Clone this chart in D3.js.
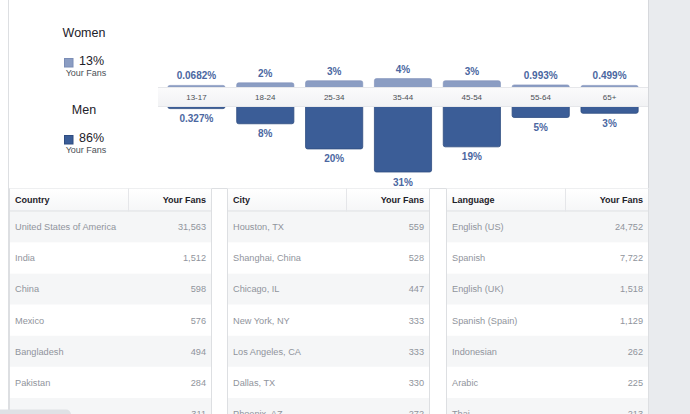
<!DOCTYPE html>
<html>
<head>
<meta charset="utf-8">
<script src="https://cdn.jsdelivr.net/npm/d3@7/dist/d3.min.js"></script>
<style>
  html, body { margin: 0; padding: 0; background: #fff; overflow: hidden; }
  svg { display: block; font-family: "Liberation Sans", Arial, Helvetica, sans-serif; }
</style>
</head>
<body>
<svg id="chart" width="690" height="414"></svg>
<script>
// ---------- DATA ----------
const ageGroups = ["13-17", "18-24", "25-34", "35-44", "45-54", "55-64", "65+"];
const womenValues = [0.0682, 2, 3, 4, 3, 0.993, 0.499];
const womenLabels = ["0.0682%", "2%", "3%", "4%", "3%", "0.993%", "0.499%"];
const menValues = [0.327, 8, 20, 31, 19, 5, 3];
const menLabels = ["0.327%", "8%", "20%", "31%", "19%", "5%", "3%"];
const genderNames = ["Women", "Men"];
const genderShares = ["13%", "86%"];

const countryNames = ["United States of America", "India", "China", "Mexico", "Bangladesh", "Pakistan", "Philippines"];
const countryFans = [31563, 1512, 598, 576, 494, 284, 311];
const cityNames = ["Houston, TX", "Shanghai, China", "Chicago, IL", "New York, NY", "Los Angeles, CA", "Dallas, TX", "Phoenix, AZ"];
const cityFans = [559, 528, 447, 333, 333, 330, 272];
const languageNames = ["English (US)", "Spanish", "English (UK)", "Spanish (Spain)", "Indonesian", "Arabic", "Thai"];
const languageFans = [24752, 7722, 1518, 1129, 262, 225, 213];
const tableHeaders = ["Country", "City", "Language"];
const valueHeader = "Your Fans";

// ---------- STYLE ----------
const WOMEN = "#8b9dc3", MEN = "#3b5d97", LABEL = "#4b67a1";
const svg = d3.select("#chart");

// defs
const defs = svg.append("defs");
const g1 = defs.append("linearGradient").attr("id", "band").attr("x1", 0).attr("y1", 0).attr("x2", 0).attr("y2", 1);
g1.append("stop").attr("offset", "0%").attr("stop-color", "#fbfbfc");
g1.append("stop").attr("offset", "100%").attr("stop-color", "#f1f2f4");
const g2 = defs.append("linearGradient").attr("id", "hdr").attr("x1", 0).attr("y1", 0).attr("x2", 0).attr("y2", 1);
g2.append("stop").attr("offset", "0%").attr("stop-color", "#ffffff");
g2.append("stop").attr("offset", "100%").attr("stop-color", "#f5f6f7");

// page frame
svg.append("rect").attr("x", 649).attr("y", 0).attr("width", 41).attr("height", 414).attr("fill", "#e9ebee");
svg.append("line").attr("x1", 8.5).attr("x2", 8.5).attr("y1", 0).attr("y2", 414).attr("stroke", "#dddfe2");
svg.append("line").attr("x1", 648.5).attr("x2", 648.5).attr("y1", 0).attr("y2", 414).attr("stroke", "#d6d8dc");

// ---------- LEGEND ----------
const legendY = [0, 77];
genderNames.forEach((name, i) => {
  const g = svg.append("g").attr("transform", `translate(0,${legendY[i]})`);
  g.append("text").attr("x", 84).attr("y", 37).attr("text-anchor", "middle")
    .attr("font-size", 12.5).attr("fill", "#1d2129").text(name);
  g.append("rect").attr("x", 64.5).attr("y", 58.5).attr("width", 8.5).attr("height", 8.5)
    .attr("fill", i === 0 ? WOMEN : MEN).attr("stroke", i === 0 ? "#7b8db6" : "#2f4c80");
  g.append("text").attr("x", 79).attr("y", 65).attr("font-size", 12.5)
    .attr("fill", "#1d2129").text(genderShares[i]);
  g.append("text").attr("x", 86).attr("y", 75.5).attr("text-anchor", "middle")
    .attr("font-size", 9).attr("fill", "#4b4f56").text("Your Fans");
});

// ---------- AGE CHART ----------
const bandTop = 87, bandBottom = 107;
const x = d3.scaleBand().domain(ageGroups).range([162, 644]).paddingInner(0.155).paddingOuter(0.0775);
const h = d3.scaleLinear().domain([0, 31]).range([0, 65]);
const minH = 1.6;

const ages = ageGroups.map((a, i) => ({ a, w: womenValues[i], m: menValues[i], wl: womenLabels[i], ml: menLabels[i] }));

// women bars (upward)
svg.append("g").selectAll("rect").data(ages).join("rect")
  .attr("x", d => x(d.a) + 0.5)
  .attr("y", d => bandTop - Math.max(minH, h(d.w)))
  .attr("width", x.bandwidth() - 1)
  .attr("height", d => Math.max(minH, h(d.w)) + 4)
  .attr("rx", 2)
  .attr("fill", WOMEN).attr("stroke", "#7d8fb8").attr("stroke-width", 0.6);

// men bars (downward)
svg.append("g").selectAll("rect").data(ages).join("rect")
  .attr("x", d => x(d.a) + 0.5)
  .attr("y", bandBottom - 4)
  .attr("width", x.bandwidth() - 1)
  .attr("height", d => Math.max(minH, h(d.m)) + 4)
  .attr("rx", 2)
  .attr("fill", MEN).attr("stroke", "#2f4c80").attr("stroke-width", 0.8);

// band
svg.append("rect").attr("x", 158).attr("y", bandTop).attr("width", 490).attr("height", bandBottom - bandTop)
  .attr("fill", "url(#band)");
svg.append("line").attr("x1", 158).attr("x2", 648).attr("y1", bandTop + 0.5).attr("y2", bandTop + 0.5).attr("stroke", "#e6e7ea");
svg.append("line").attr("x1", 158).attr("x2", 648).attr("y1", bandBottom - 0.5).attr("y2", bandBottom - 0.5).attr("stroke", "#e6e7ea");

svg.append("g").selectAll("text").data(ages).join("text")
  .attr("x", d => x(d.a) + x.bandwidth() / 2)
  .attr("y", 100)
  .attr("text-anchor", "middle").attr("font-size", 8).attr("fill", "#4b4f56")
  .text(d => d.a);

// value labels
svg.append("g").selectAll("text").data(ages).join("text")
  .attr("x", d => x(d.a) + x.bandwidth() / 2)
  .attr("y", d => bandTop - Math.max(minH, h(d.w)) - 6)
  .attr("text-anchor", "middle").attr("font-size", 10).attr("font-weight", "bold").attr("fill", LABEL)
  .text(d => d.wl);
svg.append("g").selectAll("text").data(ages).join("text")
  .attr("x", d => x(d.a) + x.bandwidth() / 2)
  .attr("y", d => bandBottom + Math.max(minH, h(d.m)) + 13.5)
  .attr("text-anchor", "middle").attr("font-size", 10).attr("font-weight", "bold").attr("fill", LABEL)
  .text(d => d.ml);

// ---------- TABLES ----------
svg.append("line").attr("x1", 8).attr("x2", 649).attr("y1", 188.5).attr("y2", 188.5).attr("stroke", "#dddfe2");

const tables = [
  { header: tableHeaders[0], names: countryNames, vals: countryFans },
  { header: tableHeaders[1], names: cityNames, vals: cityFans },
  { header: tableHeaders[2], names: languageNames, vals: languageFans }
];
const tX = [9, 227, 446], tW = 203, hdrTop = 188.5, hdrH = 23, rowH = 31.07;
const fmt = d3.format(",");

tables.forEach((t, i) => {
  const g = svg.append("g").attr("transform", `translate(${tX[i]},0)`);
  const rows = t.names.map((n, j) => ({ n, v: t.vals[j], j }));
  const rowTop = hdrTop + hdrH;
  g.selectAll("rect.row").data(rows).join("rect").attr("class", "row")
    .attr("x", 0).attr("y", d => rowTop + d.j * rowH).attr("width", tW).attr("height", rowH)
    .attr("fill", d => d.j % 2 === 0 ? "#f5f6f7" : "#ffffff");
  // header
  g.append("rect").attr("x", 0).attr("y", hdrTop).attr("width", tW).attr("height", hdrH).attr("fill", "url(#hdr)");
  g.append("line").attr("x1", 0).attr("x2", tW).attr("y1", rowTop - 0.5).attr("y2", rowTop - 0.5).attr("stroke", "#dddfe2");
  g.append("line").attr("x1", 119.5).attr("x2", 119.5).attr("y1", hdrTop).attr("y2", rowTop).attr("stroke", "#e5e6e9");
  g.append("text").attr("x", 6).attr("y", 203).attr("font-size", 9).attr("font-weight", "bold")
    .attr("fill", "#1d2129").text(t.header);
  g.append("text").attr("x", 197).attr("y", 203).attr("text-anchor", "end").attr("font-size", 9).attr("font-weight", "bold")
    .attr("fill", "#1d2129").text(valueHeader);
  // rows
  g.selectAll("text.name").data(rows).join("text").attr("class", "name")
    .attr("x", 6).attr("y", d => rowTop + d.j * rowH + 18.8)
    .attr("font-size", 9.2).attr("fill", "#90949c").text(d => d.n);
  g.selectAll("text.val").data(rows).join("text").attr("class", "val")
    .attr("x", 197).attr("y", d => rowTop + d.j * rowH + 18.8).attr("text-anchor", "end")
    .attr("font-size", 9.2).attr("fill", "#90949c").text(d => fmt(d.v));
  // borders
  g.append("line").attr("x1", 0.5).attr("x2", 0.5).attr("y1", hdrTop).attr("y2", 414).attr("stroke", "#dddfe2");
  g.append("line").attr("x1", tW - 0.5).attr("x2", tW - 0.5).attr("y1", hdrTop).attr("y2", 414).attr("stroke", "#dddfe2");
});

// bottom-left overlay bar (scrollbar-like)
svg.append("rect").attr("x", -8).attr("y", 409.5).attr("width", 79).attr("height", 12).attr("rx", 5)
  .attr("fill", "#dfe1e5");
</script>
</body>
</html>
